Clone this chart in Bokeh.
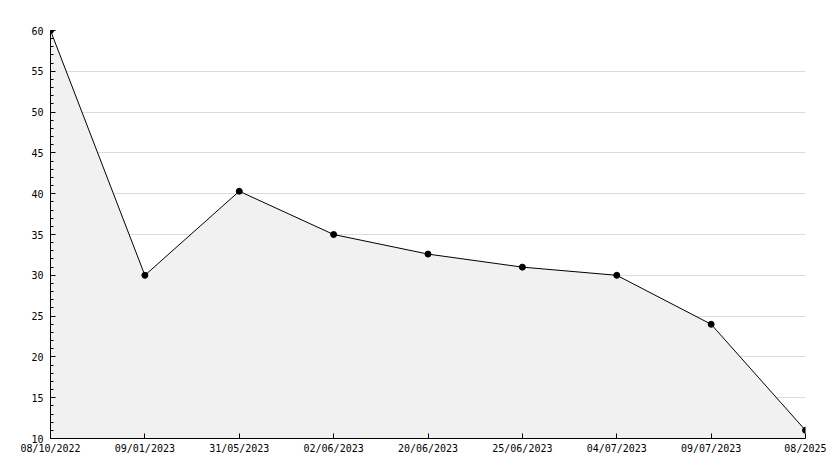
from bokeh.plotting import figure
from bokeh.models import Range1d, FixedTicker, ColumnDataSource
from bokeh.embed import file_html
from bokeh.resources import INLINE

dates = ["08/10/2022", "09/01/2023", "31/05/2023", "02/06/2023", "20/06/2023",
         "25/06/2023", "04/07/2023", "09/07/2023", "08/2025"]
values = [60, 30, 40.3, 35, 32.6, 31, 30, 24, 11]
y_ticks = [10, 15, 20, 25, 30, 35, 40, 45, 50, 55, 60]
y_min, y_max = 10, 60

xs = list(range(len(dates)))
src = ColumnDataSource(dict(x=xs, y=values, base=[y_min] * len(xs)))

p = figure(width=826, height=460, output_backend="svg", toolbar_location=None,
           x_range=Range1d(0, len(dates) - 1), y_range=Range1d(y_min, y_max),
           min_border_left=50, min_border_right=21, min_border_top=30, min_border_bottom=22)
p.outline_line_color = None
p.background_fill_color = "white"

p.varea(x="x", y1="base", y2="y", source=src, fill_color="#f1f1f1")
p.line(x="x", y="y", source=src, line_color="black", line_width=1)
p.scatter(x="x", y="y", source=src, marker="circle", size=6, fill_color="black", line_color="black")

font = "DejaVu Sans Mono"
p.xaxis.ticker = FixedTicker(ticks=xs)
p.xaxis.major_label_overrides = {i: d for i, d in enumerate(dates)}
p.yaxis.ticker = FixedTicker(ticks=y_ticks, minor_ticks=list(range(10, 61)))

for ax in (p.xaxis, p.yaxis):
    ax.axis_line_color = "black"
    ax.axis_line_width = 1
    ax.major_tick_in = 5
    ax.major_tick_out = 0
    ax.major_tick_line_color = "black"
    ax.major_label_text_font = font
    ax.major_label_text_font_size = "10px"
    ax.major_label_text_color = "black"
p.xaxis.minor_tick_line_color = None
p.yaxis.minor_tick_in = 3
p.yaxis.minor_tick_out = 0
p.yaxis.minor_tick_line_color = "black"
p.xaxis.major_label_standoff = 4
p.yaxis.major_label_standoff = 7

p.xgrid.grid_line_color = None
p.ygrid.grid_line_color = "#dcdcdc"
p.ygrid.grid_line_width = 1

open("out.html", "w").write(file_html(p, INLINE))
